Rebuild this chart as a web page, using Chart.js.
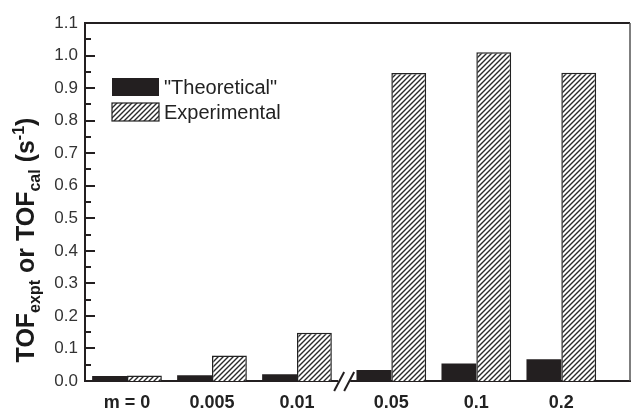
<!DOCTYPE html>
<html>
<head>
<meta charset="utf-8">
<script src="https://cdn.jsdelivr.net/npm/chart.js@4"></script>
<style>
  body { margin: 0; background: #fff; }
  canvas { display: block; }
</style>
</head>
<body>
<canvas id="tofChart" width="632" height="410"></canvas>
<script>
// data
const categories = ['m = 0', '0.005', '0.01', '0.05', '0.1', '0.2'];
const theoretical = [0.015, 0.018, 0.021, 0.034, 0.054, 0.067];
const experimental = [0.017, 0.078, 0.148, 0.946, 1.01, 0.947];
const yTicks = [0.0, 0.1, 0.2, 0.3, 0.4, 0.5, 0.6, 0.7, 0.8, 0.9, 1.0, 1.1];

// axis break sits between 0.01 and 0.05, pushing the later groups a little right
const breakAfter = 2;
const breakGap = 0.11;
const catPos = i => i + (i > breakAfter ? breakGap : 0);

const ink = '#231f20';
const font = '"Liberation Sans", Arial, sans-serif';

// diagonal hatch for the experimental bars
function makeHatch() {
  const c = document.createElement('canvas');
  c.width = 5; c.height = 5;
  const g = c.getContext('2d');
  g.fillStyle = '#fff';
  g.fillRect(0, 0, 5, 5);
  g.strokeStyle = '#2a2a2a';
  g.lineWidth = 1.4;
  g.beginPath();
  g.moveTo(-1, 6); g.lineTo(6, -1);
  g.moveTo(-1, 1); g.lineTo(1, -1);
  g.moveTo(4, 6); g.lineTo(6, 4);
  g.stroke();
  return g.createPattern(c, 'repeat');
}
const hatch = makeHatch();

const extras = {
  id: 'extras',
  afterDraw(chart) {
    const { ctx, chartArea: a, scales: { x, y } } = chart;
    ctx.save();

    // frame: top and right
    ctx.strokeStyle = ink;
    ctx.lineWidth = 2;
    ctx.beginPath();
    ctx.moveTo(a.left, a.top); ctx.lineTo(a.right, a.top);
    ctx.stroke();
    ctx.strokeStyle = '#555';
    ctx.lineWidth = 1.5;
    ctx.beginPath();
    ctx.moveTo(a.right, a.top); ctx.lineTo(a.right, a.bottom);
    ctx.stroke();

    // inward y ticks, major every 0.1, minor every 0.05
    ctx.fillStyle = ink;
    const ax = Math.round(a.left);
    for (let k = 0; k <= 22; k++) {
      const py = Math.round(y.getPixelForValue(k * 0.05));
      const len = k % 2 === 0 ? 10 : 6;
      ctx.fillRect(ax - 1, py - 1, len + 1, 2);
    }

    // axis break marks
    const cx = x.getPixelForValue((catPos(breakAfter) + catPos(breakAfter + 1)) / 2);
    const by = a.bottom;
    ctx.fillStyle = '#fff';
    ctx.fillRect(cx - 6, by - 2, 12, 4);
    ctx.strokeStyle = ink;
    ctx.lineWidth = 2;
    [-5, 5].forEach(d => {
      ctx.beginPath();
      ctx.moveTo(cx + d - 5, by + 10);
      ctx.lineTo(cx + d + 5, by - 9);
      ctx.stroke();
    });

    // legend
    ctx.font = '20px ' + font;
    ctx.textBaseline = 'middle';
    ctx.textAlign = 'left';
    chart.data.datasets.forEach((ds, i) => {
      const top = 78 + i * 25;
      ctx.fillStyle = ds.backgroundColor;
      ctx.fillRect(112, top, 47, 18);
      if (ds.borderWidth) {
        ctx.strokeStyle = ds.borderColor;
        ctx.lineWidth = 1.2;
        ctx.strokeRect(112, top, 47, 18);
      }
      ctx.fillStyle = '#222';
      ctx.fillText(ds.label, 164, top + 10);
    });

    // y title with sub/superscripts
    const parts = [
      ['TOF', 25, 0], ['expt', 16, 6], [' or TOF', 25, 0], ['cal', 16, 6],
      [' (s', 25, 0], ['-1', 16, -10], [')', 25, 0]
    ];
    const fontFor = s => 'bold ' + s + 'px ' + font;
    let total = 0;
    parts.forEach(p => { ctx.font = fontFor(p[1]); total += ctx.measureText(p[0]).width; });
    ctx.translate(34, 240);
    ctx.rotate(-Math.PI / 2);
    ctx.fillStyle = '#1a1a1a';
    ctx.textBaseline = 'alphabetic';
    let px = -total / 2;
    parts.forEach(p => {
      ctx.font = fontFor(p[1]);
      ctx.fillText(p[0], px, p[2]);
      px += ctx.measureText(p[0]).width;
    });
    ctx.restore();
  }
};

new Chart(document.getElementById('tofChart'), {
  type: 'bar',
  data: {
    datasets: [{
      label: '"Theoretical"',
      data: theoretical.map((v, i) => ({ x: catPos(i), y: v })),
      backgroundColor: ink,
      borderWidth: 0
    }, {
      label: 'Experimental',
      data: experimental.map((v, i) => ({ x: catPos(i), y: v })),
      backgroundColor: hatch,
      borderColor: '#222',
      borderWidth: 1.5
    }]
  },
  options: {
    responsive: false,
    animation: false,
    devicePixelRatio: 1,
    layout: { padding: { top: 23, right: 2 } },
    datasets: { bar: { categoryPercentage: 0.82, barPercentage: 1.0 } },
    plugins: { legend: { display: false }, tooltip: { enabled: false } },
    scales: {
      x: {
        type: 'linear',
        min: -0.494,
        max: 5.918,
        offset: false,
        grid: { display: false, drawTicks: false },
        border: { display: true, width: 2, color: ink },
        afterBuildTicks: s => { s.ticks = categories.map((c, i) => ({ value: catPos(i) })); },
        afterFit: s => { s.height = 29; },
        ticks: {
          autoSkip: false,
          maxRotation: 0,
          padding: 11,
          color: '#222',
          font: { family: font, size: 18, weight: 'bold' },
          callback: (v, i) => categories[i]
        }
      },
      y: {
        min: 0,
        max: 1.1,
        grid: { display: false, drawTicks: false },
        border: { display: true, width: 2, color: ink },
        afterBuildTicks: s => { s.ticks = yTicks.map(v => ({ value: v })); },
        afterFit: s => { s.width = 85; },
        ticks: {
          padding: 7,
          color: '#333',
          font: { family: font, size: 17 },
          callback: v => v.toFixed(1)
        }
      }
    }
  },
  plugins: [extras]
});
</script>
</body>
</html>
